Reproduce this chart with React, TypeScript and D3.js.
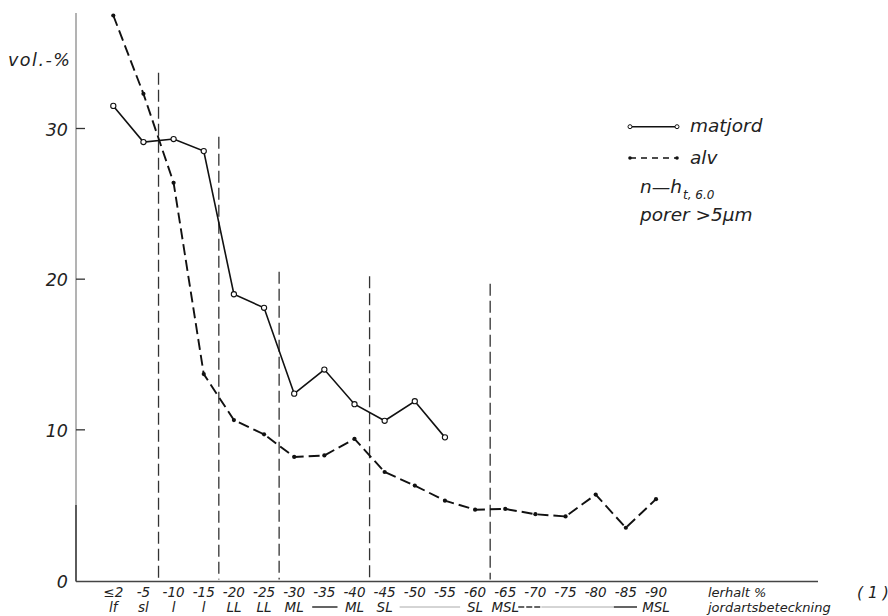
import React from "react";
import * as d3 from "d3";

// Clay content classes (lerhalt %) along the x axis
const categories = [
  "≤2", "-5", "-10", "-15", "-20", "-25", "-30", "-35", "-40", "-45",
  "-50", "-55", "-60", "-65", "-70", "-75", "-80", "-85", "-90",
];

// Soil type designation (jordartsbeteckning) under each class
const soilTypes = [
  "lf", "sl", "l", "l", "LL", "LL", "ML", "", "ML", "SL",
  "", "", "SL", "MSL", "", "", "", "", "MSL",
];

// Pore volume > 5 µm, vol.-%
const matjord = [31.5, 29.1, 29.3, 28.5, 19.0, 18.1, 12.4, 14.0, 11.7, 10.6, 11.9, 9.5];
const alv = [37.5, 32.3, 26.4, 13.7, 10.65, 9.7, 8.2, 8.3, 9.4, 7.2, 6.3, 5.3, 4.7, 4.75, 4.4, 4.25, 5.7, 3.5, 5.4];

const yTicks = [0, 10, 20, 30];

// Class boundaries: divider after category index, and its top in vol.-%
const dividerAfter = [1, 3, 5, 8, 12];
const dividerTop = [33.7, 29.45, 20.5, 20.2, 19.7];

const FONT = "'DejaVu Sans', sans-serif";

export default function App() {
  const width = 888;
  const height = 616;

  const x = d3.scalePoint<string>().domain(categories).range([113.3, 656]);
  const step = x.step();
  const y = d3.scaleLinear().domain([0, 30]).range([580.5, 128.5]);

  const axisX = 76;
  const axisY = y(0) + 1;

  const lineGen = d3
    .line<number>()
    .x((_, i) => x(categories[i]) as number)
    .y((d) => y(d));

  const px = (i: number) => x(categories[i]) as number;

  const row1 = 597;
  const row2 = 612;

  return (
    <svg
      width={width}
      height={height}
      viewBox={`0 0 ${width} ${height}`}
      style={{ position: "absolute", left: 0, top: 0, background: "#fff" }}
      fontFamily={FONT}
      fontStyle="italic"
    >
      {/* y axis */}
      <line x1={axisX} x2={axisX} y1={13} y2={505} stroke="#8a8a8a" strokeWidth={1.3} />
      <line x1={axisX} x2={axisX} y1={505} y2={axisY} stroke="#333" strokeWidth={1.6} />
      {yTicks.map((t) => (
        <g key={t}>
          {t > 0 && (
            <line x1={axisX} x2={axisX + 9} y1={y(t)} y2={y(t)} stroke="#333" strokeWidth={1.3} />
          )}
          <text x={68} y={y(t) + 7} textAnchor="end" fontSize={17.5} fill="#222">
            {t}
          </text>
        </g>
      ))}
      <text x={8} y={66} fontSize={17.5} fill="#222" letterSpacing={1.5}>
        vol.-%
      </text>

      {/* x axis */}
      <line x1={axisX} x2={818} y1={axisY} y2={axisY} stroke="#444" strokeWidth={1.3} />

      {/* class boundaries */}
      {dividerAfter.map((idx, k) => {
        const xx = px(idx) + step / 2;
        return (
          <line
            key={idx}
            x1={xx}
            x2={xx}
            y1={y(dividerTop[k])}
            y2={axisY - 2}
            stroke="#333"
            strokeWidth={1.3}
            strokeDasharray="12,5"
          />
        );
      })}

      {/* alv (subsoil) */}
      <path
        d={lineGen(alv) ?? ""}
        fill="none"
        stroke="#111"
        strokeWidth={1.9}
        strokeDasharray="11,5"
      />
      {alv.map((v, i) => (
        <circle key={i} cx={px(i)} cy={y(v)} r={2.1} fill="#111" />
      ))}

      {/* matjord (topsoil) */}
      <path d={lineGen(matjord) ?? ""} fill="none" stroke="#111" strokeWidth={1.6} />
      {matjord.map((v, i) => (
        <circle key={i} cx={px(i)} cy={y(v)} r={2.6} fill="#fff" stroke="#111" strokeWidth={1.1} />
      ))}

      {/* x labels: clay content */}
      {categories.map((c) => (
        <text key={c} x={x(c)} y={row1} textAnchor="middle" fontSize={13.5} fill="#222">
          {c}
        </text>
      ))}
      {/* x labels: soil type */}
      {soilTypes.map((s, i) =>
        s ? (
          <text key={i} x={px(i)} y={row2} textAnchor="middle" fontSize={13.5} fill="#222">
            {s}
          </text>
        ) : null
      )}
      {/* soil type range connectors */}
      <line x1={px(6) + 18} x2={px(8) - 17} y1={row2 - 5} y2={row2 - 5} stroke="#222" strokeWidth={1.4} />
      <line x1={px(9) + 15} x2={px(12) - 15} y1={row2 - 5} y2={row2 - 5} stroke="#aaa" strokeWidth={1} />
      <line x1={px(13) + 13} x2={px(14) + 6} y1={row2 - 5} y2={row2 - 5} stroke="#333" strokeWidth={1.3} strokeDasharray="6,2" />
      <line x1={px(14) + 6} x2={px(17) - 12} y1={row2 - 5} y2={row2 - 5} stroke="#aaa" strokeWidth={1} />
      <line x1={px(17) - 12} x2={px(18) - 19} y1={row2 - 5} y2={row2 - 5} stroke="#222" strokeWidth={1.4} />

      <text x={708} y={row1} fontSize={13} fill="#222">
        lerhalt %
      </text>
      <text x={708} y={row2} fontSize={13} fill="#222">
        jordartsbeteckning
      </text>
      <text x={857} y={row1 + 1} fontSize={15.5} fill="#222">
        ( 1 )
      </text>

      {/* legend */}
      <g>
        <line x1={630} x2={677} y1={126.7} y2={126.7} stroke="#111" strokeWidth={1.4} />
        <circle cx={630} cy={126.7} r={2} fill="#fff" stroke="#111" strokeWidth={1} />
        <circle cx={677} cy={126.7} r={2} fill="#fff" stroke="#111" strokeWidth={1} />
        <text x={690} y={132} fontSize={18.5} fill="#222">
          matjord
        </text>
        <line x1={630} x2={677} y1={158} y2={158} stroke="#111" strokeWidth={1.4} strokeDasharray="6,5" />
        <circle cx={630} cy={158} r={1.8} fill="#111" />
        <circle cx={677} cy={158} r={1.8} fill="#111" />
        <text x={690} y={164} fontSize={18.5} fill="#222">
          alv
        </text>
        <text x={640} y={193} fontSize={18.5} fill="#222">
          n—h
          <tspan fontSize={12} dy={6} dx={1}>
            t, 6.0
          </tspan>
        </text>
        <text x={640} y={221} fontSize={18.5} fill="#222">
          porer &gt;5µm
        </text>
      </g>
    </svg>
  );
}
